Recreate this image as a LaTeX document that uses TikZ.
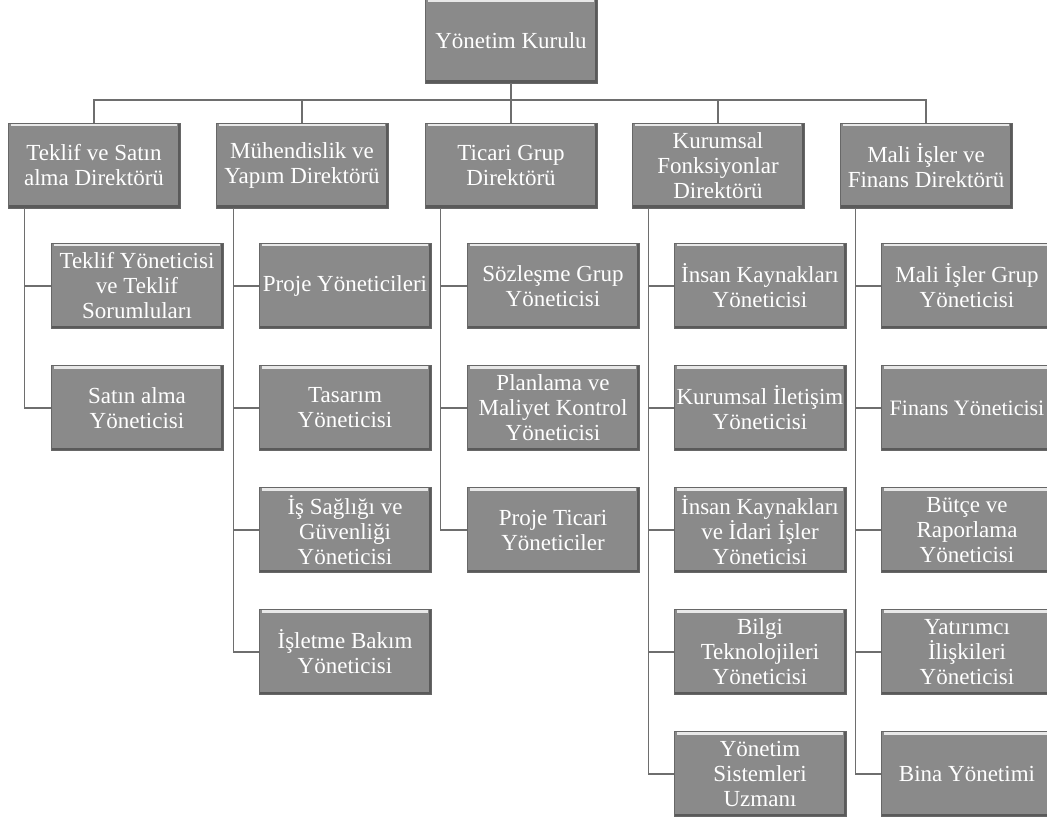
\documentclass[tikz,border=0pt]{standalone}
\usepackage{fontspec}
\setmainfont{Liberation Serif}
\definecolor{boxgray}{RGB}{138,138,138}
\definecolor{linegray}{RGB}{110,110,110}
\tikzset{
  orgbox/.style={fill=boxgray, draw=boxgray!75!black, line width=0.6pt, text=white,
    minimum width=172pt, minimum height=85pt, inner sep=0pt, align=center,
    font=\fontsize{23}{25}\selectfont,
    path picture={
      \fill[white!80!boxgray] ([xshift=3pt]path picture bounding box.north west) rectangle ([xshift=-3pt,yshift=-3pt]path picture bounding box.north east);
      \fill[boxgray!65!black] (path picture bounding box.south west) rectangle ([yshift=2.5pt]path picture bounding box.south east);
      \fill[boxgray!65!black] ([xshift=-2.5pt]path picture bounding box.north east) rectangle (path picture bounding box.south east);
    }},
  link/.style={draw=linegray, line width=1.2pt}
}
\begin{document}
\begin{tikzpicture}[x=1pt,y=-1pt]
\useasboundingbox (0,0) rectangle (1047,821);
\clip (0,0) rectangle (1047,821);
% root
\node[orgbox, minimum height=84pt] (root) at (511,41) {Yönetim Kurulu};
% directors
\node[orgbox] (d0) at (94,165.5) {Teklif ve Satın\\alma Direktörü};
\node[orgbox] (d1) at (302,165.5) {Mühendislik ve\\Yapım Direktörü};
\node[orgbox] (d2) at (511,165.5) {Ticari Grup\\Direktörü};
\node[orgbox] (d3) at (718,165.5) {Kurumsal\\Fonksiyonlar\\Direktörü};
\node[orgbox] (d4) at (926,165.5) {Mali İşler ve\\Finans Direktörü};
% children col 0
\node[orgbox] (c0a) at (137,286) {Teklif Yöneticisi\\ve Teklif\\Sorumluları};
\node[orgbox] (c0b) at (137,408) {Satın alma\\Yöneticisi};
% col 1
\node[orgbox] (c1a) at (345,286) {Proje Yöneticileri};
\node[orgbox] (c1b) at (345,408) {Tasarım\\Yöneticisi};
\node[orgbox] (c1c) at (345,530) {İş Sağlığı ve\\Güvenliği\\Yöneticisi};
\node[orgbox] (c1d) at (345,652) {İşletme Bakım\\Yöneticisi};
% col 2
\node[orgbox] (c2a) at (553,286) {Sözleşme Grup\\Yöneticisi};
\node[orgbox] (c2b) at (553,408) {Planlama ve\\Maliyet Kontrol\\Yöneticisi};
\node[orgbox] (c2c) at (553,530) {Proje Ticari\\Yöneticiler};
% col 3
\node[orgbox] (c3a) at (760,286) {İnsan Kaynakları\\Yöneticisi};
\node[orgbox] (c3b) at (760,408) {Kurumsal İletişim\\Yöneticisi};
\node[orgbox] (c3c) at (760,530) {İnsan Kaynakları\\ve İdari İşler\\Yöneticisi};
\node[orgbox] (c3d) at (760,652) {Bilgi\\Teknolojileri\\Yöneticisi};
\node[orgbox] (c3e) at (760,774) {Yönetim\\Sistemleri\\Uzmanı};
% col 4
\node[orgbox] (c4a) at (967,286) {Mali İşler Grup\\Yöneticisi};
\node[orgbox, font=\fontsize{22}{25}\selectfont] (c4b) at (967,408) {Finans Yöneticisi};
\node[orgbox] (c4c) at (967,530) {Bütçe ve\\Raporlama\\Yöneticisi};
\node[orgbox] (c4d) at (967,652) {Yatırımcı\\İlişkileri\\Yöneticisi};
\node[orgbox] (c4e) at (967,774) {Bina Yönetimi};
% connectors root -> directors
\coordinate (bus) at (511,100);
\draw[link] (root.south) -- (bus);
\foreach \d in {d0,d1,d2,d3,d4} {\draw[link] (bus) -| (\d.north);}
% directors -> children
\foreach \c in {c0a,c0b} {\draw[link] ([xshift=17pt]d0.south west) |- (\c.west);}
\foreach \c in {c1a,c1b,c1c,c1d} {\draw[link] ([xshift=18pt]d1.south west) |- (\c.west);}
\foreach \c in {c2a,c2b,c2c} {\draw[link] ([xshift=16pt]d2.south west) |- (\c.west);}
\foreach \c in {c3a,c3b,c3c,c3d,c3e} {\draw[link] ([xshift=17pt]d3.south west) |- (\c.west);}
\foreach \c in {c4a,c4b,c4c,c4d,c4e} {\draw[link] ([xshift=16pt]d4.south west) |- (\c.west);}
\end{tikzpicture}
\end{document}
